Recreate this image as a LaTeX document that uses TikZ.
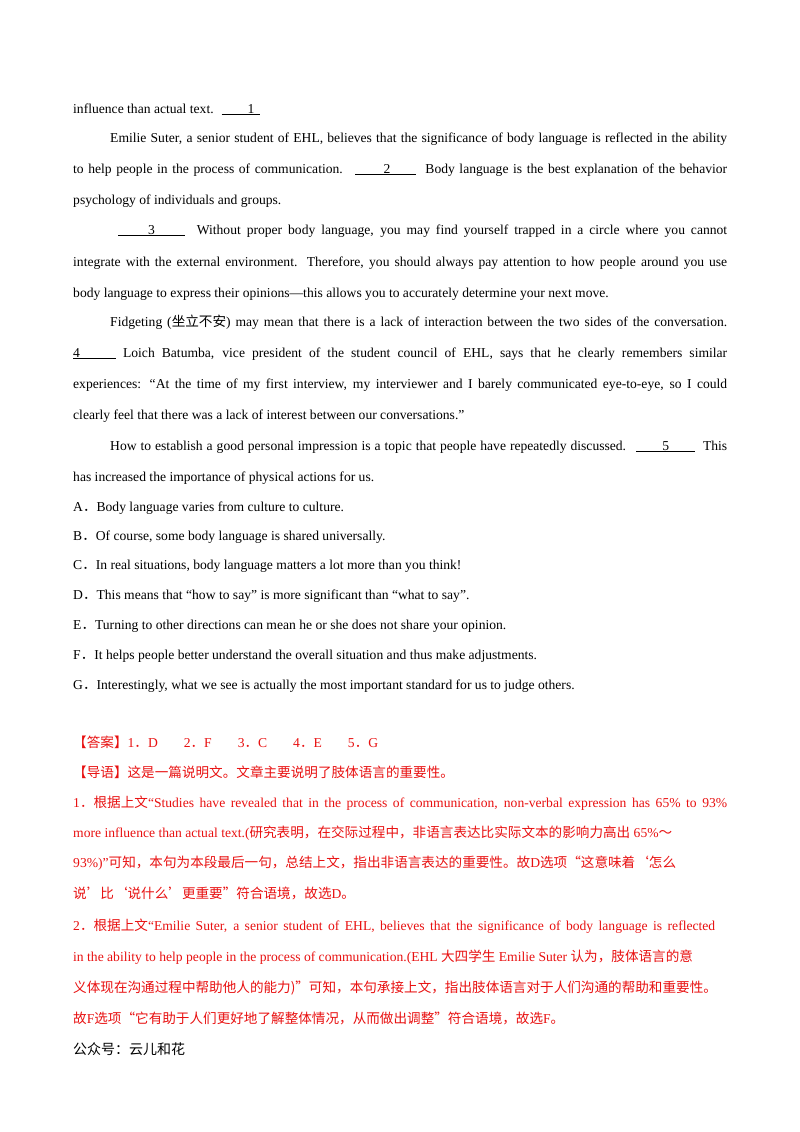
\documentclass[tikz,border=0pt]{standalone}
\usepackage{fontspec}
\setmainfont{Liberation Serif}
\newfontfamily\cjk{Noto Sans CJK SC}
\definecolor{ansred}{RGB}{232,16,16}
\newcommand{\jl}[1]{\makebox[654pt][s]{#1}}
\newcommand{\jli}[1]{\makebox[617pt][s]{#1}}
\newcommand{\blank}[3]{\underline{\hspace{#1}#3\hspace{#2}}}
\newcommand{\dt}{{\cjk ．}}
\begin{document}
\begin{tikzpicture}[x=1pt,y=-1pt,
  ln/.style={anchor=base west,inner sep=0pt,font=\fontsize{13.6}{16}\selectfont},
  rd/.style={ln,text=ansred}]
\useasboundingbox (0,0) rectangle (800,1132);
\node[ln] (l1) at (73,113) {influence than actual text. \ \blank{26pt}{6pt}{1}};
\node[ln] (l2) at (110,142) {\jli{Emilie Suter, a senior student of EHL, believes that the significance of body language is reflected in the ability}};
\node[ln] (l3) at (73,173) {\jl{to help people in the process of communication. \ \blank{28pt}{26pt}{2}\ \ Body language is the best explanation of the behavior}};
\node[ln] (l4) at (73,204) {psychology of individuals and groups.};
\node[ln] (l5) at (118,234) {\makebox[609pt][s]{\blank{30pt}{30pt}{3}\ \ Without proper body language, you may find yourself trapped in a circle where you cannot}};
\node[ln] (l6) at (73,266) {\jl{integrate with the external environment. Therefore, you should always pay attention to how people around you use}};
\node[ln] (l7) at (73,297) {body language to express their opinions---this allows you to accurately determine your next move.};
\node[ln] (l8) at (110,326) {\jli{Fidgeting ({\cjk 坐立不安}) may mean that there is a lack of interaction between the two sides of the conversation.}};
\node[ln] (l9) at (73,357) {\jl{\underline{4\hspace{36pt}} Loich Batumba, vice president of the student council of EHL, says that he clearly remembers similar}};
\node[ln] (l10) at (73,388) {\jl{experiences: “At the time of my first interview, my interviewer and I barely communicated eye-to-eye, so I could}};
\node[ln] (l11) at (73,419) {clearly feel that there was a lack of interest between our conversations.”};
\node[ln] (l12) at (110,450) {\jli{How to establish a good personal impression is a topic that people have repeatedly discussed. \ \blank{26pt}{26pt}{5}\ \ This}};
\node[ln] (l13) at (73,481) {has increased the importance of physical actions for us.};
\node[ln] (oA) at (73,511) {A\dt Body language varies from culture to culture.};
\node[ln] (oB) at (73,540) {B\dt Of course, some body language is shared universally.};
\node[ln] (oC) at (73,569) {C\dt In real situations, body language matters a lot more than you think!};
\node[ln] (oD) at (73,599) {D\dt This means that “how to say” is more significant than “what to say”.};
\node[ln] (oE) at (73,629) {E\dt Turning to other directions can mean he or she does not share your opinion.};
\node[ln] (oF) at (73,659) {F\dt It helps people better understand the overall situation and thus make adjustments.};
\node[ln] (oG) at (73,689) {G\dt Interestingly, what we see is actually the most important standard for us to judge others.};
\node[rd] (a1) at (73,747) {{\cjk 【答案】}1\dt D\hspace{26pt}2\dt F\hspace{26pt}3\dt C\hspace{26pt}4\dt E\hspace{26pt}5\dt G};
\node[rd] (a2) at (73,777) {\cjk 【导语】这是一篇说明文。文章主要说明了肢体语言的重要性。};
\node[rd] (a3) at (73,807) {\jl{1\dt {\cjk 根据上文}“Studies have revealed that in the process of communication, non-verbal expression has 65\% to 93\%}};
\node[rd] (a4) at (73,837) {more influence than actual text.({\cjk 研究表明，在交际过程中，非语言表达比实际文本的影响力高出} 65\%{\cjk ～}};
\node[rd] (a5) at (73,867) {93\%)”{\cjk 可知，本句为本段最后一句，总结上文，指出非语言表达的重要性。故}D{\cjk 选项“这意味着‘怎么}};
\node[rd] (a6) at (73,898) {{\cjk 说’比‘说什么’更重要”符合语境，故选}D{\cjk 。}};
\node[rd] (b1) at (73,930) {\makebox[642pt][s]{2\dt {\cjk 根据上文}“Emilie Suter, a senior student of EHL, believes that the significance of body language is reflected}};
\node[rd] (b2) at (73,961) {in the ability to help people in the process of communication.(EHL {\cjk 大四学生} Emilie Suter {\cjk 认为，肢体语言的意}};
\node[rd] (b3) at (73,992) {\cjk 义体现在沟通过程中帮助他人的能力)”可知，本句承接上文，指出肢体语言对于人们沟通的帮助和重要性。};
\node[rd] (b4) at (73,1023) {{\cjk 故}F{\cjk 选项“它有助于人们更好地了解整体情况，从而做出调整”符合语境，故选}F{\cjk 。}};
\node[ln,font=\cjk\fontsize{14}{16}\selectfont] (wx) at (73,1054) {公众号：云儿和花};
\end{tikzpicture}
\end{document}
